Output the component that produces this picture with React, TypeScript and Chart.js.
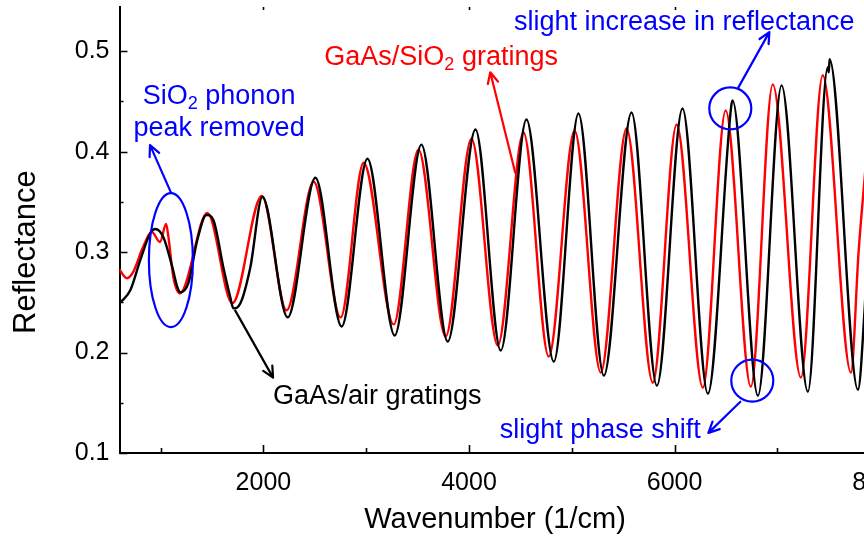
import React, { useEffect, useRef } from "react";
import { Chart, registerables } from "chart.js";

Chart.register(...registerables);

// ---------- data ----------
// GaAs/air gratings (black)
const airWavenumber = [
  600, 628, 705, 802, 900, 948, 1026, 1114, 1163, 1192, 1270, 1357, 1445, 1513, 1610, 1678, 1708, 1776, 1873, 1990,
  2236, 2506, 2761, 3012, 3277, 3537, 3793, 4063, 4309, 4559, 4825, 5065, 5312, 5581, 5828, 6077, 6324, 6552, 6564,
  6811, 7041, 7297, 7490, 7500, 7508, 7784, 7850, 7920, 7990, 8150, 8300,
];
const airReflectance = [
  0.25, 0.252, 0.262, 0.292, 0.319, 0.323, 0.315, 0.285, 0.265, 0.26, 0.269, 0.312, 0.337, 0.332, 0.285, 0.255, 0.244, 0.249, 0.285, 0.355,
  0.235, 0.374, 0.226, 0.393, 0.217, 0.407, 0.211, 0.422, 0.202, 0.432, 0.191, 0.438, 0.177, 0.439, 0.167, 0.443, 0.159, 0.446, 0.451,
  0.157, 0.466, 0.161, 0.484, 0.479, 0.492, 0.163, 0.245, 0.38, 0.47, 0.3, 0.18,
];

// GaAs/SiO2 gratings (red)
const sio2Wavenumber = [
  600, 605, 673, 732, 829, 914, 994, 1053, 1076, 1124, 1189, 1455, 1698, 1985, 2225, 2489, 2751, 2975, 3267, 3508,
  3773, 4024, 4280, 4530, 4776, 5027, 5282, 5533, 5788, 6020, 6275, 6497, 6742, 6955, 7229, 7441, 7716, 7790, 7850,
  7930, 8100, 8300,
];
const sio2Reflectance = [
  0.283, 0.282, 0.274, 0.28, 0.305, 0.32, 0.31, 0.328, 0.315, 0.275, 0.259, 0.339, 0.249, 0.356, 0.242, 0.37, 0.235, 0.389, 0.228, 0.402,
  0.216, 0.413, 0.207, 0.419, 0.196, 0.421, 0.18, 0.423, 0.17, 0.427, 0.165, 0.441, 0.166, 0.467, 0.175, 0.476, 0.18, 0.3, 0.375,
  0.47, 0.3, 0.18,
];

const xMajorTicks = [2000, 4000, 6000, 8000];
const xMinorTicks = [1000, 3000, 5000, 7000];
const yMajorTicks = [0.1, 0.2, 0.3, 0.4, 0.5];
const yMinorTicks = [0.15, 0.25, 0.35, 0.45];

const xTitle = "Wavenumber (1/cm)";
const yTitle = "Reflectance";

// ---------- styling / annotations ----------
const FONT = '"Liberation Sans", Arial, Helvetica, sans-serif';
const BLUE = "#0000ff";
const RED = "#ff0000";
const BLACK = "#000000";

type Seg = { t: string; sub?: boolean };
const textNotes: { segs: Seg[]; x: number; y: number; color: string }[] = [
  { segs: [{ t: "SiO" }, { t: "2", sub: true }, { t: " phonon" }], x: 1569, y: 0.455, color: BLUE },
  { segs: [{ t: "peak removed" }], x: 1569, y: 0.423, color: BLUE },
  { segs: [{ t: "GaAs/SiO" }, { t: "2", sub: true }, { t: " gratings" }], x: 3729, y: 0.494, color: RED },
  { segs: [{ t: "slight increase in reflectance" }], x: 6094, y: 0.529, color: BLUE },
  { segs: [{ t: "GaAs/air gratings" }], x: 3107, y: 0.156, color: BLACK },
  { segs: [{ t: "slight phase shift" }], x: 5277, y: 0.122, color: BLUE },
];
const arrowNotes = [
  { x1: 1102, y1: 0.359, x2: 897, y2: 0.4065, color: BLUE },
  { x1: 4450, y1: 0.379, x2: 4207, y2: 0.479, color: RED },
  { x1: 6621, y1: 0.464, x2: 6922, y2: 0.519, color: BLUE },
  { x1: 1725, y1: 0.242, x2: 2094, y2: 0.175, color: BLACK },
  { x1: 6640, y1: 0.151, x2: 6329, y2: 0.12, color: BLUE },
];
const ellipseNotes = [
  { x: 1100, y: 0.292, rx: 22, ry: 67, color: BLUE },
  { x: 6542, y: 0.443, rx: 21, ry: 21, color: BLUE },
  { x: 6756, y: 0.172, rx: 21, ry: 21, color: BLUE },
];

const NOTE_SIZE = 27;

function drawSegs(ctx: CanvasRenderingContext2D, segs: Seg[], cx: number, cy: number, size: number, color: string) {
  const widths = segs.map((s) => {
    ctx.font = `${s.sub ? Math.round(size * 0.65) : size}px ${FONT}`;
    return ctx.measureText(s.t).width;
  });
  const total = widths.reduce((a, b) => a + b, 0);
  let x = cx - total / 2;
  ctx.fillStyle = color;
  ctx.textAlign = "left";
  ctx.textBaseline = "middle";
  segs.forEach((s, i) => {
    ctx.font = `${s.sub ? Math.round(size * 0.65) : size}px ${FONT}`;
    ctx.fillText(s.t, x, s.sub ? cy + size * 0.3 : cy);
    x += widths[i];
  });
}

function drawArrow(ctx: CanvasRenderingContext2D, x1: number, y1: number, x2: number, y2: number, color: string) {
  const head = 12;
  const ang = Math.atan2(y2 - y1, x2 - x1);
  const a = Math.PI / 7;
  ctx.strokeStyle = color;
  ctx.lineWidth = 2.2;
  ctx.lineCap = "round";
  ctx.lineJoin = "round";
  ctx.beginPath();
  ctx.moveTo(x1, y1);
  ctx.lineTo(x2, y2);
  ctx.moveTo(x2 - head * Math.cos(ang - a), y2 - head * Math.sin(ang - a));
  ctx.lineTo(x2, y2);
  ctx.lineTo(x2 - head * Math.cos(ang + a), y2 - head * Math.sin(ang + a));
  ctx.stroke();
}

const decorPlugin = {
  id: "decor",
  afterDraw(chart: any) {
    const ctx: CanvasRenderingContext2D = chart.ctx;
    const xs = chart.scales.x;
    const ys = chart.scales.y;
    const area = chart.chartArea;
    ctx.save();
    // inward tick marks
    ctx.strokeStyle = BLACK;
    ctx.lineWidth = 1.6;
    ctx.beginPath();
    xMajorTicks.forEach((v) => {
      const px = Math.round(xs.getPixelForValue(v)) + 0.5;
      ctx.moveTo(px, area.bottom);
      ctx.lineTo(px, area.bottom - 8);
      ctx.moveTo(px, area.top);
      ctx.lineTo(px, area.top + 3);
    });
    xMinorTicks.forEach((v) => {
      const px = Math.round(xs.getPixelForValue(v)) + 0.5;
      ctx.moveTo(px, area.bottom);
      ctx.lineTo(px, area.bottom - 5);
    });
    yMajorTicks.forEach((v) => {
      const py = Math.round(ys.getPixelForValue(v)) + 0.5;
      ctx.moveTo(area.left, py);
      ctx.lineTo(area.left + 8, py);
    });
    yMinorTicks.forEach((v) => {
      const py = Math.round(ys.getPixelForValue(v)) + 0.5;
      ctx.moveTo(area.left, py);
      ctx.lineTo(area.left + 4, py);
    });
    ctx.stroke();

    // axis titles
    ctx.fillStyle = BLACK;
    ctx.font = `29px ${FONT}`;
    ctx.textAlign = "center";
    ctx.textBaseline = "middle";
    ctx.fillText(xTitle, 495, 520);
    ctx.save();
    ctx.translate(26, ys.getPixelForValue((yMajorTicks[0] + yMajorTicks[yMajorTicks.length - 1]) / 2));
    ctx.rotate(-Math.PI / 2);
    ctx.font = `31px ${FONT}`;
    ctx.fillText(yTitle, 0, 0);
    ctx.restore();

    // annotations
    ellipseNotes.forEach((e) => {
      ctx.strokeStyle = e.color;
      ctx.lineWidth = 2.2;
      ctx.beginPath();
      ctx.ellipse(xs.getPixelForValue(e.x), ys.getPixelForValue(e.y), e.rx, e.ry, 0, 0, Math.PI * 2);
      ctx.stroke();
    });
    arrowNotes.forEach((a) => {
      drawArrow(
        ctx,
        xs.getPixelForValue(a.x1),
        ys.getPixelForValue(a.y1),
        xs.getPixelForValue(a.x2),
        ys.getPixelForValue(a.y2),
        a.color
      );
    });
    textNotes.forEach((n) => {
      drawSegs(ctx, n.segs, xs.getPixelForValue(n.x), ys.getPixelForValue(n.y), NOTE_SIZE, n.color);
    });
    ctx.restore();
  },
};

export default function App() {
  const ref = useRef<HTMLCanvasElement>(null);
  useEffect(() => {
    const canvas = ref.current;
    if (!canvas) return;
    const chart = new Chart(canvas, {
      type: "line",
      data: {
        datasets: [
          {
            label: "GaAs/air gratings",
            data: airWavenumber.map((x, i) => ({ x, y: airReflectance[i] })),
            borderColor: BLACK,
            borderWidth: 2.4,
            pointRadius: 0,
            cubicInterpolationMode: "monotone",
            borderJoinStyle: "round",
            fill: false,
          },
          {
            label: "GaAs/SiO2 gratings",
            data: sio2Wavenumber.map((x, i) => ({ x, y: sio2Reflectance[i] })),
            borderColor: RED,
            borderWidth: 2.4,
            pointRadius: 0,
            cubicInterpolationMode: "monotone",
            borderJoinStyle: "round",
            fill: false,
          },
        ],
      },
      options: {
        responsive: false,
        animation: false,
        devicePixelRatio: 1,
        events: [],
        layout: { padding: { top: 7, left: 0, right: 49, bottom: 0 } },
        plugins: { legend: { display: false }, tooltip: { enabled: false } },
        scales: {
          x: {
            type: "linear",
            min: 600,
            max: 8300,
            afterBuildTicks: (s: any) => {
              s.ticks = [...xMinorTicks, ...xMajorTicks].sort((a, b) => a - b).map((value) => ({ value }));
            },
            afterFit: (s: any) => {
              s.height = 87;
              s.paddingLeft = 0;
              s.paddingRight = 0;
            },
            grid: { display: false, drawTicks: false },
            border: { display: true, color: BLACK, width: 2 },
            ticks: {
              autoSkip: false,
              maxRotation: 0,
              minRotation: 0,
              padding: 15,
              color: BLACK,
              font: { family: FONT, size: 25 },
              callback: (v: any) => (xMajorTicks.includes(Math.round(Number(v))) ? String(Math.round(Number(v))) : ""),
            },
          },
          y: {
            type: "linear",
            min: 0.1,
            max: 0.544,
            afterBuildTicks: (s: any) => {
              s.ticks = yMajorTicks.map((value) => ({ value }));
            },
            afterFit: (s: any) => {
              s.width = 119.5;
              s.paddingTop = 0;
              s.paddingBottom = 0;
            },
            grid: { display: false, drawTicks: false },
            border: { display: true, color: BLACK, width: 2 },
            ticks: {
              autoSkip: false,
              padding: 10,
              color: BLACK,
              font: { family: FONT, size: 25 },
              callback: (v: any) => Number(v).toFixed(1),
            },
          },
        },
      },
      plugins: [decorPlugin],
    });
    return () => chart.destroy();
  }, []);
  return (
    <div
      style={{
        position: "fixed",
        left: 0,
        top: 0,
        width: 864,
        height: 540,
        overflow: "hidden",
        background: "#ffffff",
      }}
    >
      <canvas ref={ref} width={960} height={540} style={{ display: "block" }} />
    </div>
  );
}
